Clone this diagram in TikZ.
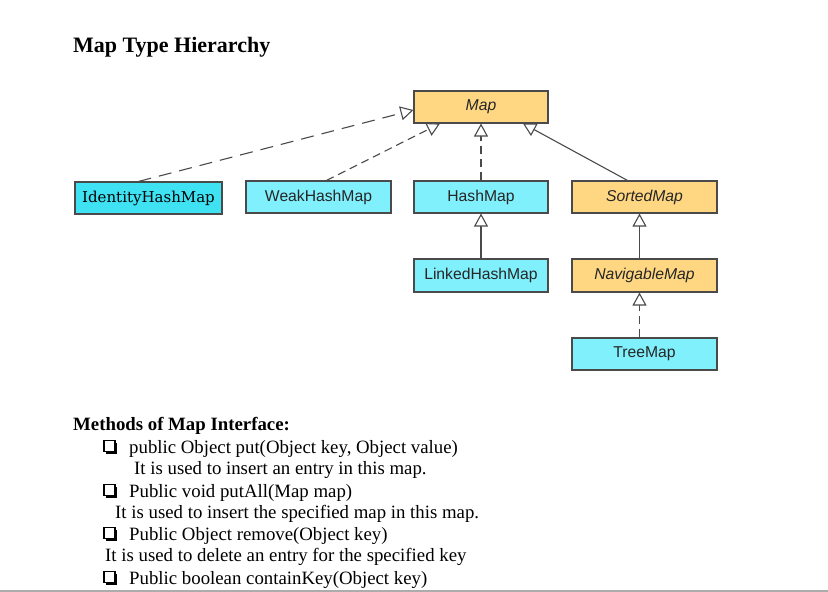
\documentclass[tikz,border=0pt]{standalone}
\usepackage{fontspec}
\setmainfont{Liberation Serif}
\setsansfont{Liberation Sans}
\newfontfamily\dvserif{DejaVu Serif}
\usetikzlibrary{arrows.meta,shadows}
\definecolor{mapor}{HTML}{FFD782}
\definecolor{cyl}{HTML}{80F0FC}
\definecolor{cyd}{HTML}{3FE2F2}
\definecolor{edgec}{HTML}{4A4A4A}
\begin{document}
\begin{tikzpicture}[x=1pt,y=-1pt,
  cls/.style={draw=edgec, line width=1.1pt, minimum height=32pt, inner sep=0pt,
    font=\sffamily\fontsize{15.7}{18}\selectfont, text=black!85},
  iface/.style={cls, fill=mapor, font=\sffamily\itshape\fontsize{15.7}{18}\selectfont},
  impl/.style={cls, fill=cyl},
  inh/.style={draw=edgec, line width=1.1pt, -{Triangle[length=13pt,width=14pt,fill=white]}},
  real/.style={inh, dash pattern=on 8pt off 5pt},
  reallong/.style={inh, dash pattern=on 13pt off 8pt},
  txt/.style={anchor=base west, inner sep=0pt, font=\fontsize{18.8}{22}\selectfont},
  chk/.style={draw=black, fill=white, line width=1.1pt, minimum size=11pt, inner sep=0pt,
    drop shadow={shadow xshift=2pt, shadow yshift=-2pt, fill=black, opacity=1}}]
\useasboundingbox (0,0) rectangle (828,592);
\fill[white] (0,0) rectangle (828,592);
\fill[gray!65] (0,589.5) rectangle (828,592);

\node[anchor=base west, inner sep=0pt, font=\bfseries\fontsize{22}{26}\selectfont] (title) at (73,52) {Map Type Hierarchy};

% class boxes
\node[iface, minimum width=134pt] (map) at (481,107) {Map};
\node[impl, fill=cyd, minimum width=147pt, text=black, font=\dvserif\fontsize{15}{18}\selectfont] (ihm) at (148.5,198) {IdentityHashMap};
\node[impl, minimum width=145pt] (whm) at (318.5,197) {WeakHashMap};
\node[impl, minimum width=134pt] (hm) at (481,197) {HashMap};
\node[iface, minimum width=145pt] (sm) at (644.5,197) {SortedMap};
\node[impl, minimum width=134pt, minimum height=33pt] (lhm) at (481,275.5) {LinkedHashMap};
\node[iface, minimum width=145pt, minimum height=33pt] (nm) at (644.5,275.5) {NavigableMap};
\node[impl, minimum width=145pt] (tm) at (644.5,354) {TreeMap};

% connectors
\draw[reallong] ([xshift=-10pt]ihm.north) -- ([yshift=-3pt]map.west);
\draw[real] ([xshift=8pt]whm.north) -- ([xshift=-41pt]map.south);
\draw[real] (hm.north) -- (map.south);
\draw[inh] ([xshift=-17pt]sm.north) -- ([xshift=42pt]map.south);
\draw[inh] (lhm.north) -- (hm.south);
\draw[inh] ([xshift=-5pt]nm.north) -- ([xshift=-5pt]sm.south);
\draw[real] ([xshift=-5pt]tm.north) -- ([xshift=-5pt]nm.south);

% methods
\node[txt, font=\bfseries\fontsize{18.8}{22}\selectfont] (mh) at (73,430) {Methods of Map Interface:};
\node[chk] (c1) at (109.5,446) {};
\node[txt] (m1) at (129,453) {public Object put(Object key, Object value)};
\node[txt] (d1) at (134,474) {It is used to insert an entry in this map.};
\node[chk] (c2) at (109.5,490) {};
\node[txt] (m2) at (129,497) {Public void putAll(Map map)};
\node[txt] (d2) at (115,518) {It is used to insert the specified map in this map.};
\node[chk] (c3) at (109.5,533) {};
\node[txt] (m3) at (129,540) {Public Object remove(Object key)};
\node[txt] (d3) at (105,561) {It is used to delete an entry for the specified key};
\node[chk] (c4) at (109.5,577) {};
\node[txt] (m4) at (129,584) {Public boolean containKey(Object key)};
\end{tikzpicture}
\end{document}
